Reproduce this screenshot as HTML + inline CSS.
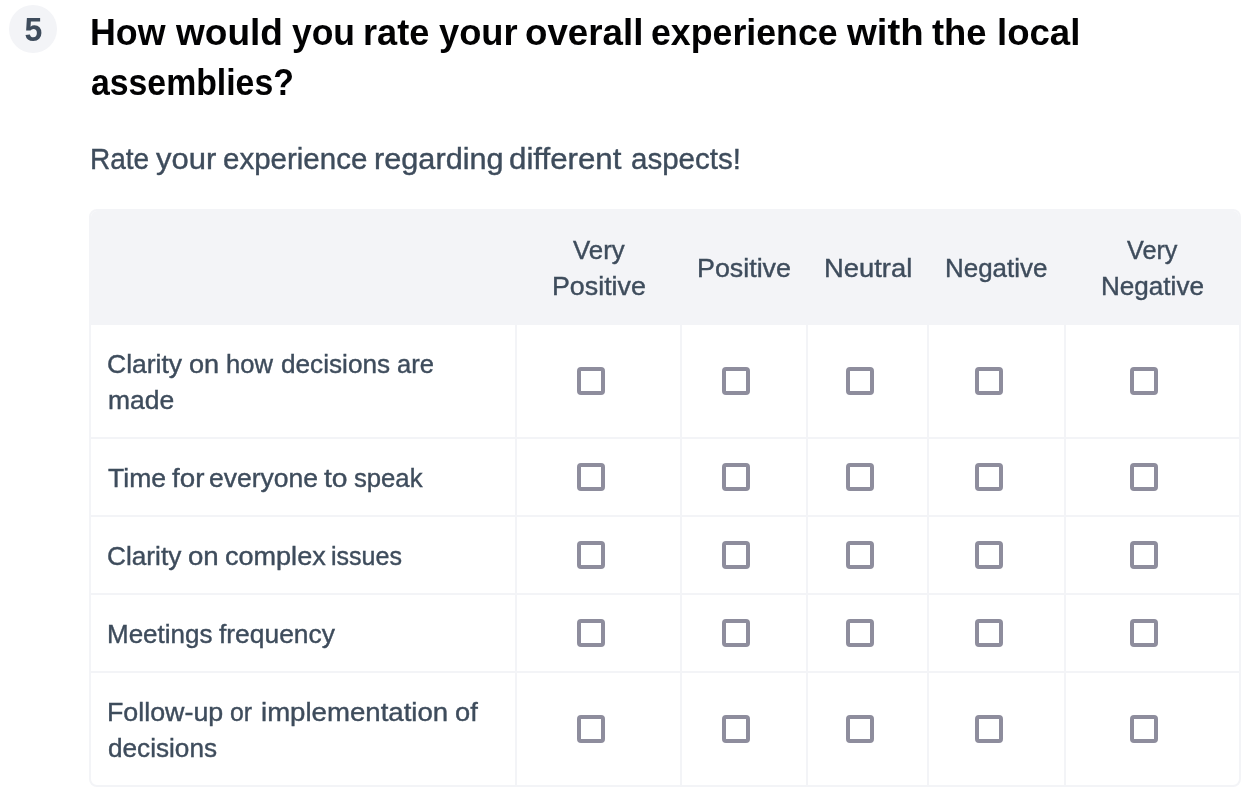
<!DOCTYPE html>
<html lang="en"><head><meta charset="utf-8"><title>Questionnaire</title>
<style>
html,body{margin:0;padding:0;background:#fff}
body{width:1256px;height:799px;position:relative;overflow:hidden;font-family:"Liberation Sans",sans-serif;color:#3e4c5c}
.num{position:absolute;left:9px;top:5px;width:48px;height:48px;border-radius:50%;background:#f3f4f7;text-align:center;font-weight:bold;font-size:34px;line-height:48px;color:#3e4c5c}
.num span{display:inline-block;transform:scaleX(.94)}
h2,p{margin:0;padding:0;font-weight:inherit;font-size:inherit}
.w{position:absolute;white-space:nowrap;line-height:1;transform-origin:0 0;display:block}
.title{font-weight:bold;font-size:37.5px;color:#020203}
.sub{font-size:30px;color:#3e4c5c;-webkit-text-stroke:.4px #3e4c5c}
.tbl{position:absolute;left:89px;top:209px;width:1148px;height:574px;border:2px solid #f3f4f7;border-radius:8px;overflow:hidden;background:#fff;font-size:26px;-webkit-text-stroke:.4px #3e4c5c}
.hd{position:absolute;left:-2px;top:-2px;width:1152px;height:116px;background:#f3f4f7}
.hl{position:absolute;background:#f3f4f7;height:2px;left:0;width:1148px}
.vl{position:absolute;background:#f3f4f7;width:2px;top:114px;height:460px}
.cb{position:absolute;width:20px;height:20px;border:4px solid #8e8d9d;border-radius:4px;background:#fff}

</style></head><body>
<div class="num"><span>5</span></div>
<h2 class="title"><span class="w" style="left:89.8px;top:14px;transform:scaleX(0.9545)">How</span> <span class="w" style="left:176.0px;top:14px;transform:scaleX(0.9877)">would</span> <span class="w" style="left:291.5px;top:14px;transform:scaleX(0.9453)">you</span> <span class="w" style="left:362.9px;top:14px;transform:scaleX(0.9652)">rate</span> <span class="w" style="left:438.6px;top:14px;transform:scaleX(0.9679)">your</span> <span class="w" style="left:525.0px;top:14px;transform:scaleX(0.9788)">overall</span> <span class="w" style="left:651.0px;top:14px;transform:scaleX(0.9526)">experience</span> <span class="w" style="left:847.0px;top:14px;transform:scaleX(1.0233)">with</span> <span class="w" style="left:932.4px;top:14px;transform:scaleX(0.9709)">the</span> <span class="w" style="left:996.8px;top:14px;transform:scaleX(0.9753)">local</span> <span class="w" style="left:90.9px;top:64px;transform:scaleX(0.9009)">assemblies?</span></h2>
<p class="sub"><span class="w" style="left:89.9px;top:144px;transform:scaleX(0.9333)">Rate</span> <span class="w" style="left:155.5px;top:144px;transform:scaleX(1.0328)">your</span> <span class="w" style="left:223.0px;top:144px;transform:scaleX(0.9834)">experience</span> <span class="w" style="left:373.9px;top:144px;transform:scaleX(1.0228)">regarding</span> <span class="w" style="left:509.3px;top:144px;transform:scaleX(1.0421)">different</span> <span class="w" style="left:630.7px;top:144px;transform:scaleX(0.9843)">aspects!</span></p>
<div class="tbl"><div class="hd"></div>
<div class="thead"><span class="w" style="left:482.0px;top:26px;transform:scaleX(0.9923)">Very</span> <span class="w" style="left:460.8px;top:62px;transform:scaleX(1.0307)">Positive</span> <span class="w" style="left:606.3px;top:44px;transform:scaleX(1.0318)">Positive</span> <span class="w" style="left:733.1px;top:44px;transform:scaleX(1.0525)">Neutral</span> <span class="w" style="left:854.4px;top:44px;transform:scaleX(0.9970)">Negative</span> <span class="w" style="left:1036.3px;top:26px;transform:scaleX(0.9692)">Very</span> <span class="w" style="left:1009.8px;top:62px;transform:scaleX(1.0030)">Negative</span></div>
<div class="row"><div class="lbl"><span class="w" style="left:16.2px;top:140px;transform:scaleX(1.0192)">Clarity</span> <span class="w" style="left:97.8px;top:140px;transform:scaleX(1.0444)">on</span> <span class="w" style="left:134.6px;top:140px;transform:scaleX(0.9830)">how</span> <span class="w" style="left:190.0px;top:140px;transform:scaleX(1.0065)">decisions</span> <span class="w" style="left:306.1px;top:140px;transform:scaleX(0.9806)">are</span> <span class="w" style="left:16.8px;top:176px;transform:scaleX(1.0175)">made</span></div>
<span class="cb" style="left:486px;top:156px"></span>
<span class="cb" style="left:631px;top:156px"></span>
<span class="cb" style="left:755px;top:156px"></span>
<span class="cb" style="left:884px;top:156px"></span>
<span class="cb" style="left:1039px;top:156px"></span>
</div>
<div class="row"><div class="lbl"><span class="w" style="left:16.8px;top:254px;transform:scaleX(1.0214)">Time</span> <span class="w" style="left:80.7px;top:254px;transform:scaleX(1.0667)">for</span> <span class="w" style="left:118.4px;top:254px;transform:scaleX(1.0190)">everyone</span> <span class="w" style="left:233.1px;top:254px;transform:scaleX(1.0857)">to</span> <span class="w" style="left:262.5px;top:254px;transform:scaleX(0.9870)">speak</span></div>
<span class="cb" style="left:486px;top:252px"></span>
<span class="cb" style="left:631px;top:252px"></span>
<span class="cb" style="left:755px;top:252px"></span>
<span class="cb" style="left:884px;top:252px"></span>
<span class="cb" style="left:1039px;top:252px"></span>
</div>
<div class="row"><div class="lbl"><span class="w" style="left:16.2px;top:332px;transform:scaleX(1.0082)">Clarity</span> <span class="w" style="left:97.4px;top:332px;transform:scaleX(1.0630)">on</span> <span class="w" style="left:133.9px;top:332px;transform:scaleX(1.0400)">complex</span> <span class="w" style="left:239.5px;top:332px;transform:scaleX(0.9625)">issues</span></div>
<span class="cb" style="left:486px;top:330px"></span>
<span class="cb" style="left:631px;top:330px"></span>
<span class="cb" style="left:755px;top:330px"></span>
<span class="cb" style="left:884px;top:330px"></span>
<span class="cb" style="left:1039px;top:330px"></span>
</div>
<div class="row"><div class="lbl"><span class="w" style="left:15.6px;top:410px;transform:scaleX(0.9990)">Meetings</span> <span class="w" style="left:128.1px;top:410px;transform:scaleX(1.0149)">frequency</span></div>
<span class="cb" style="left:486px;top:408px"></span>
<span class="cb" style="left:631px;top:408px"></span>
<span class="cb" style="left:755px;top:408px"></span>
<span class="cb" style="left:884px;top:408px"></span>
<span class="cb" style="left:1039px;top:408px"></span>
</div>
<div class="row"><div class="lbl"><span class="w" style="left:15.5px;top:488px;transform:scaleX(1.0309)">Follow-up</span> <span class="w" style="left:139.2px;top:488px;transform:scaleX(0.9545)">or</span> <span class="w" style="left:170.3px;top:488px;transform:scaleX(1.0615)">implementation</span> <span class="w" style="left:364.0px;top:488px;transform:scaleX(1.0476)">of</span> <span class="w" style="left:16.6px;top:524px;transform:scaleX(1.0056)">decisions</span></div>
<span class="cb" style="left:486px;top:504px"></span>
<span class="cb" style="left:631px;top:504px"></span>
<span class="cb" style="left:755px;top:504px"></span>
<span class="cb" style="left:884px;top:504px"></span>
<span class="cb" style="left:1039px;top:504px"></span>
</div>
<div class="hl" style="top:226px"></div>
<div class="hl" style="top:304px"></div>
<div class="hl" style="top:382px"></div>
<div class="hl" style="top:460px"></div>
<div class="vl" style="left:424px"></div>
<div class="vl" style="left:589px"></div>
<div class="vl" style="left:715px"></div>
<div class="vl" style="left:836px"></div>
<div class="vl" style="left:973px"></div>
</div></body></html>
